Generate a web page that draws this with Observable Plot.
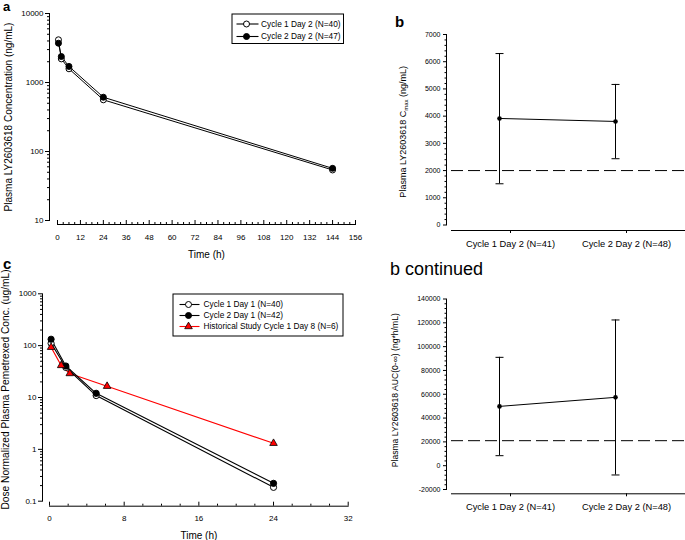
<!DOCTYPE html>
<html><head><meta charset="utf-8">
<script src="https://cdn.jsdelivr.net/npm/d3@7"></script>
<script src="https://cdn.jsdelivr.net/npm/@observablehq/plot@0.6"></script>
<style>
body{margin:0;background:#fff;}
#root{position:relative;width:685px;height:540px;overflow:hidden;background:#fff;font-family:"Liberation Sans",Arial,sans-serif;}
#root > svg{position:absolute;}
</style></head><body><div id="root"></div>
<script>
// ---------- Panel a data ----------
const timeA = [0.5, 2, 6, 24, 144];
const aCycle1Day2 = [4160, 2200, 1580, 561, 54];
const aCycle2Day2 = [3710, 2380, 1710, 612, 57];
const seriesA = ["Cycle 1 Day 2 (N=40)", "Cycle 2 Day 2 (N=47)"];
const xTicksA = [0, 12, 24, 36, 48, 60, 72, 84, 96, 108, 120, 132, 144, 156];
const yTicksA = [10, 100, 1000, 10000];
const yLabelA = "Plasma LY2603618 Concentration (ng/mL)";
const xLabel = "Time (h)";

// ---------- Panel b data ----------
const catsB = ["Cycle 1 Day 2 (N=41)", "Cycle 2 Day 2 (N=48)"];
const cmaxMean = [3915, 3805];
const cmaxLow = [1515, 2435];
const cmaxHigh = [6300, 5165];
const cmaxRef = [2000];
const yTicksB = [0, 1000, 2000, 3000, 4000, 5000, 6000, 7000];
const yLabelB = ["Plasma LY2603618 C", "max", " (ng/mL)"];

// ---------- Panel b continued data ----------
const catsB2 = ["Cycle 1 Day 2 (N=41)", "Cycle 2 Day 2 (N=48)"];
const aucMean = [49800, 57400];
const aucLow = [8400, -7800];
const aucHigh = [91000, 122400];
const aucRef = [21000];
const yTicksB2 = [-20000, 0, 20000, 40000, 60000, 80000, 100000, 120000, 140000];
const yLabelB2 = "Plasma LY2603618 AUC(0-\u221E) (ng*h/mL)";

// ---------- Panel c data ----------
const timeC = [0.17, 1.75, 5, 24];
const cCycle1Day1 = [111, 38, 10.9, 0.185];
const cCycle2Day1 = [133, 40.5, 12.05, 0.221];
const timeHist = [0.17, 1.25, 2.17, 6.17, 24];
const cHist = [93, 41.5, 29, 16.5, 1.31];
const seriesC = ["Cycle 1 Day 1 (N=40)", "Cycle 2 Day 1 (N=42)", "Historical Study Cycle 1 Day 8 (N=6)"];
const xTicksC = [0, 8, 16, 24, 32];
const yTicksC = [0.1, 1, 10, 100, 1000];
const yLabelC = "Dose Normalized Plasma Pemetrexed Conc. (ug/mL)";

// ---------- helpers ----------
const FONT = '"Liberation Sans", Arial, sans-serif';
const style = {fontFamily: FONT, fontSize: "8px", background: "transparent", color: "#000", overflow: "visible"};
function logMinor(lo, hi) {
  const out = [];
  for (let d = lo; d < hi * 0.999; d *= 10) for (let k = 2; k <= 9; k++) out.push(+(k * d).toPrecision(3));
  return out;
}
const fmt = d => String(d);
const blank = () => "";
const capSymbol = {draw(ctx, size) { const w = Math.sqrt(size / Math.PI); ctx.moveTo(-w, 0); ctx.lineTo(w, 0); }};
const root = document.getElementById("root");
function place(el, left, top) { el.style.left = left + "px"; el.style.top = top + "px"; root.appendChild(el); return el; }
function yTitle(label, dx, dy, size) {
  return Plot.text([label], {frameAnchor: "left", textAnchor: "middle", lineAnchor: "middle", rotate: -90, dx, dy, fontSize: size});
}
function xTitle(label, dy) {
  return Plot.text([label], {frameAnchor: "bottom", textAnchor: "middle", lineAnchor: "middle", dy, fontSize: 10});
}

// ---------- Panel a ----------
const rowsA = seriesA.flatMap((s, i) => timeA.map((t, j) => ({series: s, t, v: [aCycle1Day2, aCycle2Day2][i][j], open: i === 0})));
const plotA = Plot.plot({
  width: 360, height: 265, marginTop: 13, marginBottom: 45, marginLeft: 57, marginRight: 5,
  style,
  x: {domain: [xTicksA[0], xTicksA[xTicksA.length - 1]], axis: null},
  y: {type: "log", domain: [yTicksA[0], yTicksA[yTicksA.length - 1]], axis: null},
  marks: [
    Plot.frame({anchor: "left", dx: -8}),
    Plot.frame({anchor: "bottom", dy: 4}),
    Plot.axisY(yTicksA, {dx: -8, tickSize: 4, tickPadding: 2, tickFormat: fmt, fontSize: 8, label: null}),
    Plot.axisY(logMinor(10, 10000), {dx: -8, tickSize: 2, tickFormat: blank, label: null}),
    Plot.axisX(xTicksA, {dy: 4, tickSize: -4, tickFormat: blank, label: null}),
    Plot.axisX(d3.range(0, 157, 3).filter(d => d % 12), {dy: 4, tickSize: -2, tickFormat: blank, label: null}),
    Plot.axisX(xTicksA, {dy: 4, tickSize: 0, tickPadding: 10, tickFormat: fmt, fontSize: 8, label: null}),
    xTitle(xLabel, 34),
    yTitle(yLabelA, -49, 0, 10),
    Plot.line(rowsA, {x: "t", y: "v", z: "series", stroke: "#000", strokeWidth: 1}),
    Plot.dot(rowsA, {x: "t", y: "v", r: 3, fill: d => d.open ? "#fff" : "#000", stroke: "#000", strokeWidth: 1})
  ]
});
place(plotA, 0, 0);

// ---------- Panels b and b continued ----------
function errorPanel(cats, mean, low, high, ref, yTicks, minorStep, opts) {
  const rows = cats.map((c, i) => ({cat: c, mean: mean[i], lo: low[i], hi: high[i]}));
  const minor = d3.range(yTicks[0], yTicks[yTicks.length - 1] + 1, minorStep).filter(v => !yTicks.includes(v));
  const off = -11;
  return Plot.plot({
    width: 345, height: opts.height, marginTop: opts.top, marginBottom: opts.bottom, marginLeft: 111, marginRight: 1,
    style,
    x: {type: "point", domain: cats, padding: 0.5, axis: null},
    y: {domain: [yTicks[0], yTicks[yTicks.length - 1]], axis: null},
    marks: [
      Plot.frame({anchor: "left", dx: -5}),
      Plot.frame({anchor: "bottom", dy: opts.axisGap}),
      Plot.axisY(yTicks, {dx: -5, tickSize: 3, tickPadding: 3, tickFormat: fmt, fontSize: 7, label: null}),
      Plot.axisY(minor, {dx: -5, tickSize: 1.5, tickFormat: blank, label: null}),
      Plot.axisX(cats, {dy: opts.axisGap, tickSize: 3, tickPadding: 7, fontSize: 9.3, label: null}),
      Plot.ruleY(ref, {stroke: "#000", strokeWidth: 1, strokeDasharray: "12,5"}),
      Plot.ruleX(rows, {x: "cat", y1: "lo", y2: "hi", stroke: "#000", strokeWidth: 1, dx: off}),
      Plot.dot(rows, {x: "cat", y: "lo", symbol: capSymbol, r: 4, fill: "none", stroke: "#000", strokeWidth: 1, dx: off}),
      Plot.dot(rows, {x: "cat", y: "hi", symbol: capSymbol, r: 4, fill: "none", stroke: "#000", strokeWidth: 1, dx: off}),
      Plot.line(rows, {x: "cat", y: "mean", stroke: "#000", strokeWidth: 1, dx: off}),
      Plot.dot(rows, {x: "cat", y: "mean", r: 2.3, fill: "#000", stroke: "none", dx: off}),
      yTitle(opts.label, opts.labelDx, opts.labelDy, opts.labelSize)
    ]
  });
}
const plotB = errorPanel(catsB, cmaxMean, cmaxLow, cmaxHigh, cmaxRef, yTicksB, 200,
  {height: 265, top: 34, bottom: 40.5, axisGap: 5.5, label: yLabelB.join(""), labelDx: -48, labelDy: 2, labelSize: 9});
place(plotB, 340, 0);
// subscript for C_max
d3.select(plotB).selectAll("text").filter(function () { return this.textContent === yLabelB.join(""); })
  .each(function () {
    const t = d3.select(this); t.text(null);
    t.append("tspan").text(yLabelB[0]);
    t.append("tspan").attr("font-size", 6).attr("dy", 2).text(yLabelB[1]);
    t.append("tspan").attr("dy", -2).text(yLabelB[2]);
  });

const plotB2 = errorPanel(catsB2, aucMean, aucLow, aucHigh, aucRef, yTicksB2, 4000,
  {height: 280, top: 38.5, bottom: 51, axisGap: 4.3, label: yLabelB2, labelDx: -56, labelDy: -4, labelSize: 8.6});
place(plotB2, 340, 260);

// ---------- Panel c ----------
const rowsC = [
  ...timeC.map((t, j) => ({series: seriesC[0], t, v: cCycle1Day1[j]})),
  ...timeC.map((t, j) => ({series: seriesC[1], t, v: cCycle2Day1[j]}))
];
const rowsHist = timeHist.map((t, j) => ({series: seriesC[2], t, v: cHist[j]}));
const plotC = Plot.plot({
  width: 360, height: 280, marginTop: 33.3, marginBottom: 39.3, marginLeft: 49, marginRight: 12.3,
  style,
  x: {domain: [xTicksC[0], xTicksC[xTicksC.length - 1]], axis: null},
  y: {type: "log", domain: [yTicksC[0], yTicksC[yTicksC.length - 1]], axis: null},
  marks: [
    Plot.frame({anchor: "left", dx: -7}),
    Plot.frame({anchor: "bottom", dy: 5}),
    Plot.axisY(yTicksC, {dx: -7, tickSize: 4, tickPadding: 2, tickFormat: fmt, fontSize: 8, label: null}),
    Plot.axisY(logMinor(0.1, 1000), {dx: -7, tickSize: 2, tickFormat: blank, label: null}),
    Plot.axisX(xTicksC, {dy: 5, tickSize: -4, tickFormat: blank, label: null}),
    Plot.axisX(d3.range(0, 33, 2).filter(d => d % 8), {dy: 5, tickSize: -2, tickFormat: blank, label: null}),
    Plot.axisX(xTicksC, {dy: 5, tickSize: 0, tickPadding: 8.7, tickFormat: fmt, fontSize: 8, label: null}),
    xTitle(xLabel, 34.3),
    yTitle(yLabelC, -44, -8, 10.2),
    Plot.line(rowsHist, {x: "t", y: "v", stroke: "#ff0000", strokeWidth: 1.2}),
    Plot.line(rowsC, {x: "t", y: "v", z: "series", stroke: "#000", strokeWidth: 1.1}),
    Plot.dot(rowsC, {x: "t", y: "v", r: 3.1, fill: d => d.series === seriesC[0] ? "#fff" : "#000", stroke: "#000", strokeWidth: 1}),
    Plot.dot(rowsHist, {x: "t", y: "v", symbol: "triangle", r: 2.8, fill: "#ff0000", stroke: "#000", strokeWidth: 0.8})
  ]
});
place(plotC, 0, 260);

// ---------- overlay: panel tags and legends ----------
const ov = d3.select(root).append("svg").attr("width", 685).attr("height", 540)
  .style("left", "0px").style("top", "0px").style("font-family", FONT);
const tags = [
  {t: "a", x: 3, y: 11, size: 13, w: "bold"},
  {t: "b", x: 395, y: 27, size: 15, w: "bold"},
  {t: "c", x: 3, y: 268.5, size: 15, w: "bold"},
  {t: "b continued", x: 390, y: 274.5, size: 18, w: "normal"}
];
ov.selectAll("text.tag").data(tags).join("text").attr("class", "tag")
  .attr("x", d => d.x).attr("y", d => d.y).attr("font-size", d => d.size).attr("font-weight", d => d.w).text(d => d.t);

function legend(box, rows) {
  const g = ov.append("g").attr("transform", `translate(${box.x},${box.y})`);
  g.append("rect").attr("x", 0.5).attr("y", 0.5).attr("width", box.w).attr("height", box.h).attr("fill", "#fff").attr("stroke", "#000");
  rows.forEach((r, i) => {
    const y = box.rowY[i];
    g.append("line").attr("x1", box.l1).attr("x2", box.l2).attr("y1", y).attr("y2", y).attr("stroke", r.line).attr("stroke-width", 1.1);
    if (r.sym === "triangle") {
      g.append("path").attr("d", d3.symbol(d3.symbolTriangle, 25)()).attr("transform", `translate(${box.m},${y})`)
        .attr("fill", r.fill).attr("stroke", "#000").attr("stroke-width", 0.8);
    } else {
      g.append("circle").attr("cx", box.m).attr("cy", y).attr("r", 3).attr("fill", r.fill).attr("stroke", "#000");
    }
    g.append("text").attr("x", box.tx).attr("y", y).attr("dy", "0.35em").attr("font-size", 8.3).text(r.label);
  });
}
legend({x: 231.5, y: 13.5, w: 111.5, h: 29.5, rowY: [10.5, 23], l1: 5, l2: 27, m: 15, tx: 29.5},
  [{label: seriesA[0], fill: "#fff", line: "#000"}, {label: seriesA[1], fill: "#000", line: "#000"}]);
legend({x: 172.5, y: 293.5, w: 170, h: 42, rowY: [11, 22, 33], l1: 7, l2: 27, m: 16, tx: 31},
  [{label: seriesC[0], fill: "#fff", line: "#000"}, {label: seriesC[1], fill: "#000", line: "#000"},
   {label: seriesC[2], fill: "#ff0000", line: "#ff0000", sym: "triangle"}]);
</script></body></html>
